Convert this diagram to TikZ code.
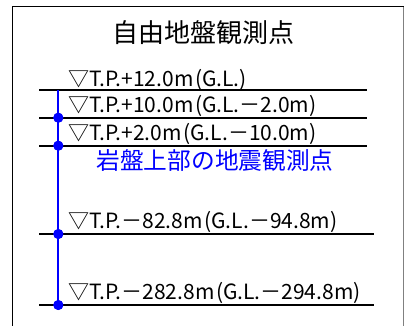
\documentclass[tikz,border=0pt]{standalone}
\usepackage{fontspec}
\setmainfont{Noto Sans CJK JP}
\newcommand{\lp}{\kern1.5pt(}
\newcommand{\rp}{)}
\newcommand{\mn}{－}
\begin{document}
\begin{tikzpicture}[x=1pt,y=-1pt,
  lvl/.style={draw=black,line width=1.6pt},
  lbl/.style={anchor=base west,inner sep=0pt,font=\fontsize{21}{21}\selectfont},
  dot/.style={circle,fill=blue,inner sep=0pt,minimum size=10pt},
  frame/.style={draw=black,line width=1.8pt}]
\useasboundingbox (0,0) rectangle (405,325);
% frame
\coordinate (ftl) at (12.5,6.5);
\coordinate (ftr) at (403.5,6.5);
\coordinate (fbl) at (12.5,326);
\coordinate (fbr) at (403.5,326);
\draw[frame] (fbl) -- (ftl) -- (ftr);
\draw[draw=gray,line width=1pt] (ftr) -- (fbr);
% title
\node[inner sep=0pt,font=\fontsize{26}{26}\selectfont] (title) at (203.5,33) {自由地盤観測点};
% level lines
\coordinate (a1) at (39,90);   \coordinate (b1) at (367,90);
\coordinate (a2) at (39,117.7); \coordinate (b2) at (367,117.7);
\coordinate (a3) at (39,145.7); \coordinate (b3) at (367,145.7);
\coordinate (a4) at (39,234);  \coordinate (b4) at (374,234);
\coordinate (a5) at (39,305);  \coordinate (b5) at (374,305);
\foreach \i in {1,...,5} {\draw[lvl] (a\i) -- (b\i);}
% blue borehole
\coordinate (top) at (58.3,90);
\node[dot] (d2) at (58.3,117.7) {};
\node[dot] (d3) at (58.3,145.7) {};
\node[dot] (d4) at (58.3,234) {};
\node[dot] (d5) at (58.3,305) {};
\draw[blue,line width=1.8pt] (top) -- (d5.center);
\foreach \i in {2,...,5} {\fill[blue] (d\i) circle (5);}
% labels
\node[lbl] (l1) at (68,86) {▽T.P.+12.0m\lp G.L.\rp};
\node[lbl] (l2) at (68,112.7) {▽T.P.+10.0m\lp G.L.\mn 2.0m\rp};
\node[lbl] (l3) at (68,140.5) {▽T.P.+2.0m\lp G.L.\mn 10.0m\rp};
\node[lbl] (l4) at (68,228.5) {▽T.P.\mn 82.8m\lp G.L.\mn 94.8m\rp};
\node[lbl] (l5) at (68,299.5) {▽T.P.\mn 282.8m\lp G.L.\mn 294.8m\rp};
\node[inner sep=0pt,text=blue,font=\fontsize{23.7}{23.7}\selectfont] (rock) at (215,161) {岩盤上部の地震観測点};
\end{tikzpicture}
\end{document}
